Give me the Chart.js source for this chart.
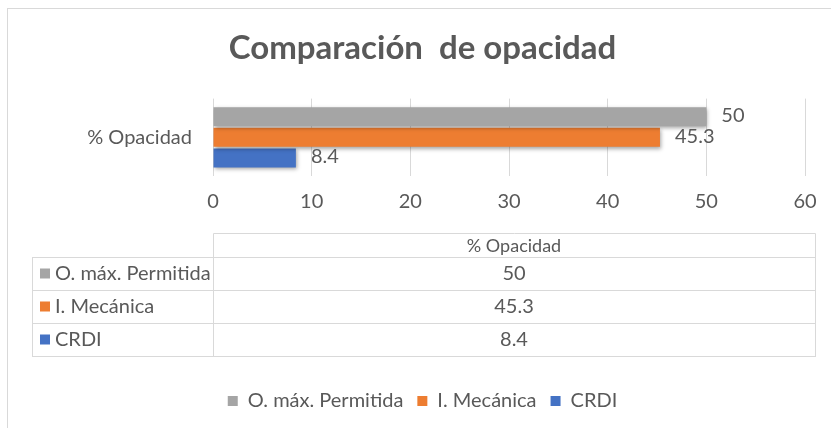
<!DOCTYPE html>
<html>
<head>
<meta charset="utf-8">
<title>Comparación de opacidad</title>
<script src="https://cdn.jsdelivr.net/npm/chart.js@4.4.1/dist/chart.umd.min.js"></script>
<style>
  html, body { margin: 0; padding: 0; background: #ffffff; }
  #wrap { position: relative; width: 831px; height: 428px; overflow: hidden; }
  #frame {
    position: absolute; left: 7px; top: 8px; width: 840px; height: 440px;
    border: 1px solid #d9d9d9; box-sizing: border-box;
  }
  #chart { position: absolute; left: 0; top: 0; }
</style>
</head>
<body>
<div id="wrap">
  <div id="frame"></div>
  <canvas id="chart" width="831" height="428"></canvas>
</div>
<script>
// --- Data ---
const categories = ["% Opacidad"];
const seriesNames = ["O. máx. Permitida", "I. Mecánica", "CRDI"];
const maxPermitida = [50];
const mecanica = [45.3];
const crdi = [8.4];
const seriesColors = ["#A5A5A5", "#ED7D31", "#4472C4"];
const xTicks = [0, 10, 20, 30, 40, 50, 60];

const FONT = "Lato, 'Open Sans', sans-serif";
const TEXT = "#595959";
const LINE = "#d9d9d9";

document.addEventListener("DOMContentLoaded", () => {
  const ctx = document.getElementById("chart");

  // soft shadow under the bars, like the Excel style
  const barShadow = {
    id: "barShadow",
    beforeDatasetsDraw(chart) {
      const c = chart.ctx;
      c.save();
      c.shadowColor = "rgba(0,0,0,0.35)";
      c.shadowBlur = 4;
      c.shadowOffsetX = 1;
      c.shadowOffsetY = 2;
    },
    afterDatasetsDraw(chart) {
      chart.ctx.restore();
    },
  };

  // value labels at the end of each bar
  const barLabels = {
    id: "barLabels",
    afterDatasetsDraw(chart) {
      const c = chart.ctx;
      c.save();
      c.font = `20px ${FONT}`;
      c.fillStyle = TEXT;
      c.textAlign = "left";
      c.textBaseline = "middle";
      chart.data.datasets.forEach((ds, i) => {
        chart.getDatasetMeta(i).data.forEach((bar, j) => {
          c.fillText(String(ds.data[j]), bar.x + 15, bar.y - 1);
        });
      });
      c.restore();
    },
  };

  // data table under the axis
  const dataTable = {
    id: "dataTable",
    afterDraw(chart) {
      const c = chart.ctx;
      const x = chart.scales.x;
      const left = 32;
      const split = x.left;
      const right = x.right + 10;
      const headTop = x.top + 57;
      const headH = 24;
      const rowH = 33;
      const mid = (split + right) / 2;
      const rows = chart.data.datasets;
      const bottom = headTop + headH + rowH * rows.length;

      c.save();
      c.strokeStyle = LINE;
      c.lineWidth = 1;
      c.beginPath();
      // header box
      c.moveTo(split + 0.5, headTop + 0.5);
      c.lineTo(right + 0.5, headTop + 0.5);
      c.moveTo(right + 0.5, headTop + 0.5);
      c.lineTo(right + 0.5, bottom + 0.5);
      c.moveTo(split + 0.5, headTop + 0.5);
      c.lineTo(split + 0.5, bottom + 0.5);
      c.moveTo(left + 0.5, headTop + headH + 0.5);
      c.lineTo(left + 0.5, bottom + 0.5);
      for (let r = 0; r <= rows.length; r++) {
        const y = Math.round(headTop + headH + r * rowH) + 0.5;
        c.moveTo(left, y);
        c.lineTo(right + 1, y);
      }
      c.stroke();

      c.fillStyle = TEXT;
      c.textBaseline = "middle";
      c.textAlign = "center";
      c.font = `18px ${FONT}`;
      c.fillText(chart.data.labels[0], mid, headTop + headH / 2 + 1);

      c.font = `20px ${FONT}`;
      rows.forEach((ds, r) => {
        const cy = headTop + headH + r * rowH + rowH / 2;
        c.fillStyle = ds.backgroundColor;
        c.fillRect(40, cy - 5, 10, 10);
        c.fillStyle = TEXT;
        c.textAlign = "left";
        c.fillText(ds.label, 55, cy);
        c.textAlign = "center";
        c.fillText(String(ds.data[0]), mid, cy);
      });
      c.restore();
    },
  };

  const datasets = [maxPermitida, mecanica, crdi].map((values, i) => ({
    label: seriesNames[i],
    data: values,
    backgroundColor: seriesColors[i],
    borderWidth: 0,
    categoryPercentage: 0.8,
    barPercentage: 0.92,
  }));

  new Chart(ctx, {
    type: "bar",
    data: { labels: categories, datasets: datasets },
    plugins: [barShadow, barLabels, dataTable],
    options: {
      indexAxis: "y",
      responsive: false,
      animation: false,
      layout: { padding: { left: 40, right: 26, top: 0, bottom: 7 } },
      plugins: {
        tooltip: { enabled: false },
        title: {
          display: true,
          text: "Comparación  de opacidad",
          color: TEXT,
          font: { family: FONT, size: 33, weight: "bold" },
          padding: { top: 29, bottom: 30 },
        },
        legend: {
          position: "bottom",
          labels: {
            color: TEXT,
            font: { family: FONT, size: 20 },
            boxWidth: 10,
            boxHeight: 10,
            padding: 14,
          },
        },
      },
      scales: {
        x: {
          min: 0,
          max: 60,
          afterBuildTicks: (scale) => {
            scale.ticks = xTicks.map((v) => ({ value: v }));
          },
          afterFit: (scale) => {
            scale.height = 201;
          },
          grid: { color: LINE, drawTicks: false },
          border: { display: false },
          ticks: {
            color: TEXT,
            font: { family: FONT, size: 20 },
            padding: 14,
          },
        },
        y: {
          afterFit: (scale) => {
            scale.width = 173;
          },
          grid: { display: false },
          border: { display: false },
          ticks: {
            color: TEXT,
            font: { family: FONT, size: 20 },
            padding: 13,
          },
        },
      },
    },
  });
});
</script>
</body>
</html>
